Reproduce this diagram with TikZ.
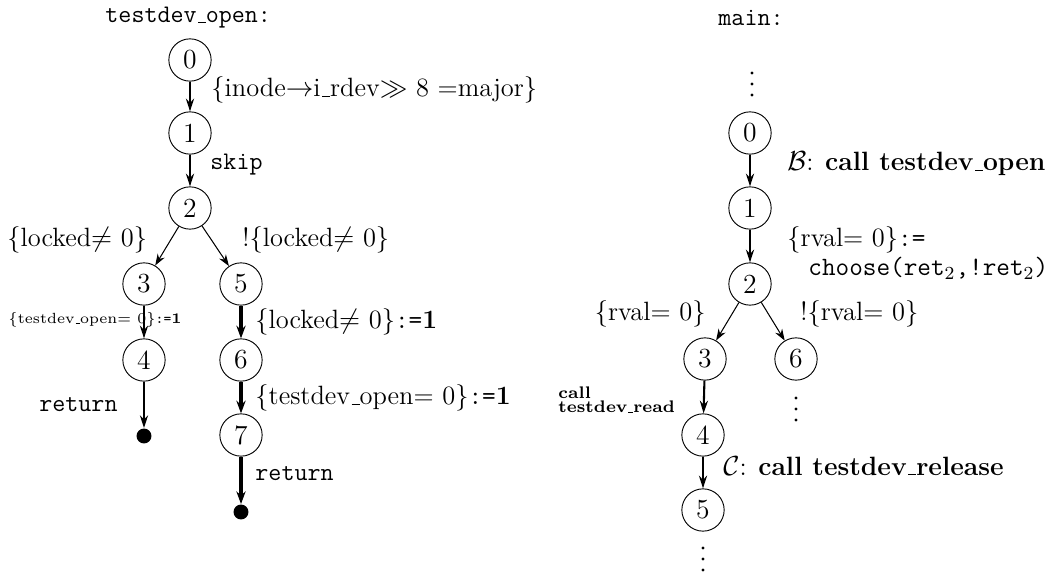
\documentclass[tikz,border=0pt]{standalone}
\usetikzlibrary{arrows.meta}
\newcommand{\us}{\leavevmode\kern.06em\vbox{\hrule width.3em height 0.45pt}}
\begin{document}
\begin{tikzpicture}[x=0.4348pt,y=-0.4348pt,
  st/.style={circle,draw,line width=0.4pt,minimum size=18.4pt,inner sep=0pt,font=\large},
  fin/.style={circle,fill=black,minimum size=6.5pt,inner sep=0pt},
  dt/.style={circle,fill=black,minimum size=1.4pt,inner sep=0pt},
  med/.style={line width=0.9pt,-{Stealth[length=5.5pt,width=3.5pt]}},
  thk/.style={line width=1.7pt,-{Stealth[length=5.5pt,width=4pt]}},
  thn/.style={line width=0.45pt,-{Stealth[length=5pt,width=3.5pt]}},
  lbl/.style={font=\fontsize{11.5}{13.6}\selectfont,inner sep=0pt},
  ttl/.style={font=\fontsize{11}{13}\selectfont\ttfamily,inner sep=0pt}]
\useasboundingbox (0,0) rectangle (1055,577);
% ---------- left: testdev_open ----------
\node[ttl,anchor=west] (t1) at (105,18) {testdev\us open:};
\node[st] (a0) at (190,60) {0};
\node[st] (a1) at (190,133) {1};
\node[st] (a2) at (190,208) {2};
\node[st] (a3) at (144,284) {3};
\node[st] (a5) at (241,284) {5};
\node[st] (a4) at (144,360) {4};
\node[st] (a6) at (241,360) {6};
\node[st] (a7) at (241,435) {7};
\node[fin] (ae1) at (144,436) {};
\node[fin] (ae2) at (241,512) {};
\draw[med] (a0) -- (a1);
\draw[med] (a1) -- (a2);
\draw[thn] (a2) -- (a3);
\draw[thn] (a2) -- (a5);
\draw[med] (a3) -- (a4);
\draw[med] (a4) -- (ae1);
\draw[thk] (a5) -- (a6);
\draw[thk] (a6) -- (a7);
\draw[thk] (a7) -- (ae2);
\node[lbl,anchor=west] (l01) at (211,90) {\{inode$\rightarrow$i\us rdev$\gg$ 8 =major\}};
\node[ttl,anchor=west] (l12) at (210,165) {skip};
\node[lbl,anchor=west] (l23) at (7,240) {\{locked$\neq$ 0\}};
\node[lbl,anchor=west] (l25) at (242,240) {!\{locked$\neq$ 0\}};
\node[inner sep=0pt,anchor=west,font=\fontsize{6.4}{7.5}\selectfont] (l34) at (8,320) {\{testdev\us open= 0\}\texttt{:=}\textbf{1}};
\node[lbl,anchor=west] (l56) at (255,322) {\{locked$\neq$ 0\}\texttt{:=}\textbf{1}};
\node[lbl,anchor=west] (l67) at (255,398) {\{testdev\us open= 0\}\texttt{:=}\textbf{1}};
\node[ttl,anchor=east] (l4e) at (118,405) {return};
\node[ttl,anchor=west] (l7e) at (255,474) {return};
% ---------- right: main ----------
\node[ttl,anchor=west] (t2) at (718,18) {main:};
\node[dt] (d0a) at (752,73) {};
\node[dt] (d0b) at (752,84) {};
\node[dt] (d0c) at (752,95) {};
\node[st] (b0) at (750,133) {0};
\node[st] (b1) at (750,208) {1};
\node[st] (b2) at (750,284) {2};
\node[st] (b3) at (705,359) {3};
\node[st] (b6) at (796,359) {6};
\node[st] (b4) at (703,435) {4};
\node[st] (b5) at (703,510) {5};
\node[dt] (d6a) at (796,398) {};
\node[dt] (d6b) at (796,409) {};
\node[dt] (d6c) at (796,420) {};
\node[dt] (d5a) at (703,548) {};
\node[dt] (d5b) at (703,559) {};
\node[dt] (d5c) at (703,570) {};
\draw[med] (b0) -- (b1);
\draw[med] (b1) -- (b2);
\draw[thn] (b2) -- (b3);
\draw[thn] (b2) -- (b6);
\draw[med] (b3) -- (b4);
\draw[med] (b4) -- (b5);
\node[lbl,anchor=west] (m01) at (787,164) {$\mathcal{B}$: \textbf{call testdev\us open}};
\node[lbl,anchor=west] (m12a) at (787,240) {\{rval= 0\}\texttt{:=}};
\node[lbl,anchor=west] (m12b) at (808,268) {\texttt{choose(ret$_2$,!ret$_2$)}};
\node[lbl,anchor=east] (m23) at (706,314) {\{rval= 0\}};
\node[lbl,anchor=west] (m26) at (800,314) {!\{rval= 0\}};
\node[inner sep=0pt,anchor=west,font=\fontsize{7.3}{8}\selectfont\bfseries,align=left] (m34) at (558,400) {call\\[-2pt]testdev\us read};
\node[lbl,anchor=west] (m45) at (723,466) {$\mathcal{C}$: \textbf{call testdev\us release}};
\end{tikzpicture}
\end{document}
